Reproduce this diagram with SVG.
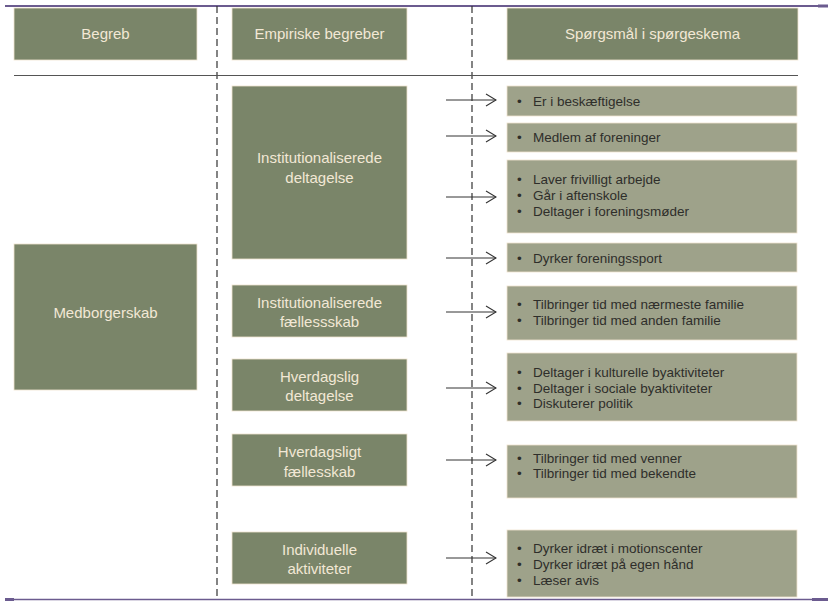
<svg xmlns="http://www.w3.org/2000/svg" width="828" height="601" viewBox="0 0 828 601">
<style>
.dk{fill:#7a8569;stroke:#efe3cf;stroke-width:0.8}
.lt{fill:#9ea28a;stroke:#efe3cf;stroke-width:0.8}
.hd{font-family:"Liberation Sans",Arial,sans-serif;font-size:15px;fill:#f2e8d5;text-anchor:middle}
.it{font-family:"Liberation Sans",Arial,sans-serif;font-size:13.5px;fill:#2e2e2a}
.dash{stroke:#333;stroke-width:1.2;stroke-dasharray:7,4;fill:none}
.arr{stroke:#333;stroke-width:1;fill:none;marker-end:url(#ah)}
</style>
<defs>
<marker id="ah" viewBox="0 0 12 14" refX="11" refY="7" markerWidth="12" markerHeight="14" markerUnits="userSpaceOnUse" orient="auto">
<path d="M1,1 L11,7 L1,13" fill="none" stroke="#333" stroke-width="1.1"/>
</marker>
</defs>
<rect width="828" height="601" fill="#ffffff"/>
<g id="frame">
<line x1="5" y1="6" x2="828" y2="6" stroke="#6b5b8f" stroke-width="2"/>
<line x1="217" y1="6" x2="217" y2="599" class="dash"/>
<line x1="472" y1="6" x2="472" y2="599" class="dash"/>
<line x1="14" y1="75.5" x2="798" y2="75.5" stroke="#555" stroke-width="1.2"/>
</g>
<g id="h-begreb"><rect class="dk" x="14" y="8" width="183" height="52"/><text class="hd" x="105.5" y="39">Begreb</text></g>
<g id="h-empiriske"><rect class="dk" x="232" y="8" width="175" height="52"/><text class="hd" x="319.5" y="39">Empiriske begreber</text></g>
<g id="h-sporgsmal"><rect class="dk" x="507" y="8" width="291" height="52"/><text class="hd" x="652.5" y="39">Spørgsmål i spørgeskema</text></g>
<g id="medborgerskab"><rect class="dk" x="14" y="244" width="183" height="146"/><text class="hd" x="105.5" y="318">Medborgerskab</text></g>
<g id="e1"><rect class="dk" x="232" y="86" width="175" height="173"/><text class="hd" x="319.5" y="163">Institutionaliserede</text><text class="hd" x="319.5" y="183">deltagelse</text></g>
<g id="e2"><rect class="dk" x="232" y="285" width="175" height="52"/><text class="hd" x="319.5" y="308">Institutionaliserede</text><text class="hd" x="319.5" y="327">fællessskab</text></g>
<g id="e3"><rect class="dk" x="232" y="359" width="175" height="52"/><text class="hd" x="319.5" y="382">Hverdagslig</text><text class="hd" x="319.5" y="401">deltagelse</text></g>
<g id="e4"><rect class="dk" x="232" y="434" width="175" height="52"/><text class="hd" x="319.5" y="457">Hverdagsligt</text><text class="hd" x="319.5" y="476.5">fællesskab</text></g>
<g id="e5"><rect class="dk" x="232" y="532" width="175" height="52"/><text class="hd" x="319.5" y="555">Individuelle</text><text class="hd" x="319.5" y="573.5">aktiviteter</text></g>
<g id="q1"><rect class="lt" x="507" y="86" width="290" height="30"/><text class="it" x="517" y="105.5">•</text><text class="it" x="533" y="105.5">Er i beskæftigelse</text></g>
<g id="q2"><rect class="lt" x="507" y="123" width="290" height="29"/><text class="it" x="517" y="141.5">•</text><text class="it" x="533" y="141.5">Medlem af foreninger</text></g>
<g id="q3"><rect class="lt" x="507" y="160" width="290" height="73"/>
<text class="it" x="517" y="183.5">•</text><text class="it" x="533" y="183.5">Laver frivilligt arbejde</text>
<text class="it" x="517" y="199.5">•</text><text class="it" x="533" y="199.5">Går i aftenskole</text>
<text class="it" x="517" y="215.5">•</text><text class="it" x="533" y="215.5">Deltager i foreningsmøder</text></g>
<g id="q4"><rect class="lt" x="507" y="243" width="290" height="29"/><text class="it" x="517" y="262.5">•</text><text class="it" x="533" y="262.5">Dyrker foreningssport</text></g>
<g id="q5"><rect class="lt" x="507" y="286" width="290" height="54"/>
<text class="it" x="517" y="308.5">•</text><text class="it" x="533" y="308.5">Tilbringer tid med nærmeste familie</text>
<text class="it" x="517" y="324.5">•</text><text class="it" x="533" y="324.5">Tilbringer tid med anden familie</text></g>
<g id="q6"><rect class="lt" x="507" y="353" width="290" height="68"/>
<text class="it" x="517" y="376.5">•</text><text class="it" x="533" y="376.5">Deltager i kulturelle byaktiviteter</text>
<text class="it" x="517" y="392.5">•</text><text class="it" x="533" y="392.5">Deltager i sociale byaktiviteter</text>
<text class="it" x="517" y="408">•</text><text class="it" x="533" y="408">Diskuterer politik</text></g>
<g id="q7"><rect class="lt" x="507" y="445" width="290" height="53"/>
<text class="it" x="517" y="462.5">•</text><text class="it" x="533" y="462.5">Tilbringer tid med venner</text>
<text class="it" x="517" y="478">•</text><text class="it" x="533" y="478">Tilbringer tid med bekendte</text></g>
<g id="q8"><rect class="lt" x="507" y="530" width="290" height="67"/>
<text class="it" x="517" y="553">•</text><text class="it" x="533" y="553">Dyrker idræt i motionscenter</text>
<text class="it" x="517" y="569">•</text><text class="it" x="533" y="569">Dyrker idræt på egen hånd</text>
<text class="it" x="517" y="585">•</text><text class="it" x="533" y="585">Læser avis</text></g>
<g id="frame-bottom">
<line x1="5" y1="599.5" x2="828" y2="599.5" stroke="#6b5b8f" stroke-width="1.5"/>
<rect x="5" y="598" width="9" height="3" fill="#6b5b8f"/>
<rect x="812" y="598" width="16" height="3" fill="#6b5b8f"/>
<rect x="818" y="4.5" width="10" height="3" fill="#6b5b8f"/>
</g>
<g id="connectors">
<line class="arr" x1="446" y1="100" x2="496" y2="100"/>
<line class="arr" x1="446" y1="136" x2="496" y2="136"/>
<line class="arr" x1="446" y1="197" x2="496" y2="197"/>
<line class="arr" x1="446" y1="258" x2="496" y2="258"/>
<line class="arr" x1="446" y1="312" x2="496" y2="312"/>
<line class="arr" x1="446" y1="388" x2="496" y2="388"/>
<line class="arr" x1="446" y1="460" x2="496" y2="460"/>
<line class="arr" x1="446" y1="558" x2="496" y2="558"/>
</g>
</svg>
